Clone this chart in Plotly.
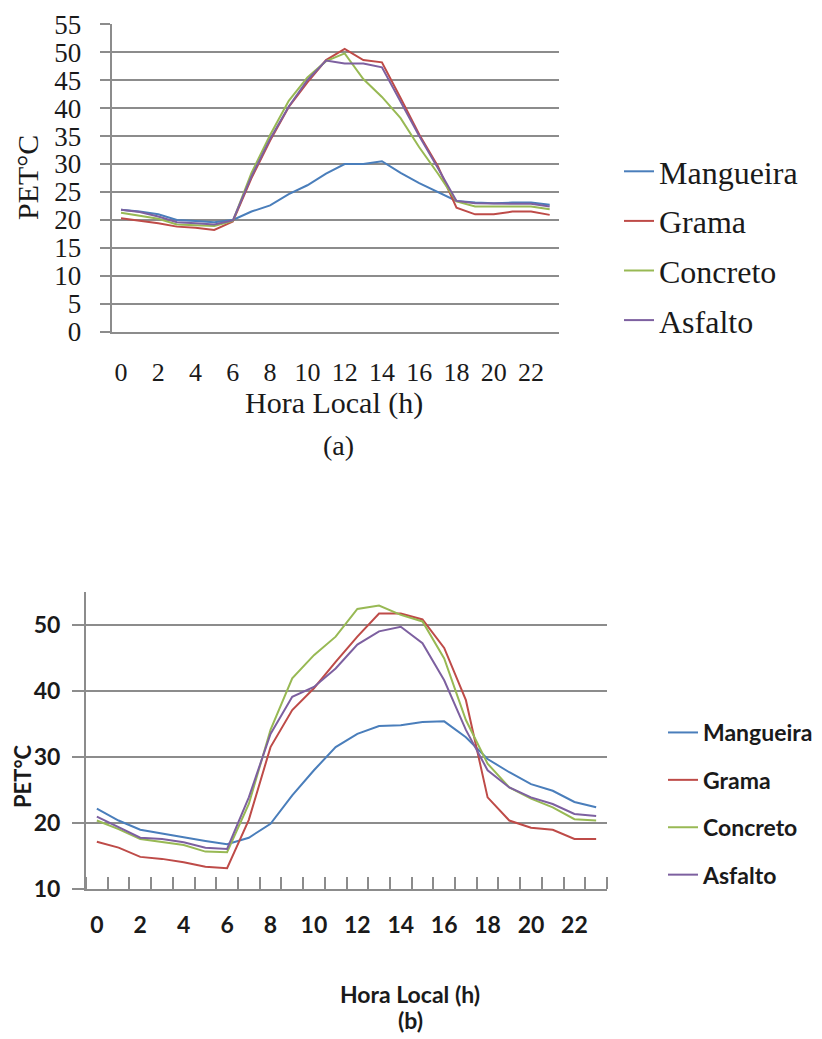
import plotly.graph_objects as go

# ---------------- data ----------------
hours = list(range(24))
tick_hours = list(range(0, 24, 2))
tick_labels = [str(h) for h in tick_hours]
series_names = ["Mangueira", "Grama", "Concreto", "Asfalto"]
series_colors = ["#4A7EBB", "#BE4B48", "#98B954", "#7D60A0"]

# (a)
a_mangueira = [21.8, 21.5, 21.0, 20.0, 19.8, 19.6, 20.0, 21.5, 22.6, 24.6, 26.2, 28.3,
               30.0, 30.0, 30.5, 28.4, 26.6, 25.0, 23.4, 23.1, 23.0, 23.1, 23.1, 22.7]
a_grama = [20.3, 19.9, 19.4, 18.8, 18.6, 18.2, 19.7, 27.5, 34.2, 40.2, 44.6, 48.6,
           50.6, 48.6, 48.2, 41.8, 35.3, 29.6, 22.2, 21.0, 21.0, 21.5, 21.5, 20.9]
a_concreto = [21.3, 20.8, 20.2, 19.2, 19.0, 18.9, 19.8, 28.4, 35.2, 41.3, 45.5, 48.4,
              49.8, 45.2, 42.0, 38.2, 33.0, 28.3, 23.3, 22.4, 22.4, 22.4, 22.4, 21.9]
a_asfalto = [21.8, 21.4, 20.6, 19.6, 19.4, 19.2, 19.9, 27.8, 34.5, 40.3, 45.0, 48.5,
             48.0, 48.0, 47.3, 41.2, 35.0, 29.3, 23.4, 23.0, 22.9, 22.9, 22.9, 22.4]

# (b)
b_mangueira = [22.2, 20.4, 19.0, 18.4, 17.9, 17.3, 16.8, 17.8, 19.9, 24.2, 28.0, 31.5,
               33.5, 34.7, 34.8, 35.3, 35.4, 33.0, 29.7, 27.7, 25.9, 24.9, 23.2, 22.4]
b_grama = [17.2, 16.3, 14.9, 14.6, 14.1, 13.4, 13.2, 20.5, 31.5, 37.1, 40.4, 44.4,
           48.2, 51.7, 51.7, 50.8, 46.5, 38.6, 23.9, 20.4, 19.3, 19.0, 17.6, 17.6]
b_concreto = [20.4, 19.1, 17.6, 17.2, 16.7, 15.7, 15.6, 22.9, 34.1, 41.9, 45.4, 48.2,
              52.4, 52.9, 51.5, 50.5, 44.9, 35.6, 29.0, 25.4, 23.7, 22.4, 20.6, 20.4]
b_asfalto = [21.0, 19.4, 17.8, 17.6, 17.1, 16.3, 16.1, 23.9, 33.5, 39.1, 40.6, 43.4,
             47.0, 49.0, 49.7, 47.2, 41.6, 34.1, 28.0, 25.4, 23.9, 22.9, 21.4, 21.1]

a_series = [a_mangueira, a_grama, a_concreto, a_asfalto]
b_series = [b_mangueira, b_grama, b_concreto, b_asfalto]

# ---------------- layout helpers ----------------
# the page adds an 8px body margin, so the figure is 8px smaller on each axis
OFF = 8
W, H = 822 - OFF, 1039 - OFF
def px_x(p):
    return (p - OFF) / W
def px_y(p):
    return 1 - (p - OFF) / H

GRID = "#8C8C8C"
TXT = "#1A1A1A"
SERIF = "Liberation Serif"
SANS = "Lato"

fig = go.Figure()
for name, color, vals in zip(series_names, series_colors, a_series):
    fig.add_trace(go.Scatter(x=hours, y=vals, mode="lines", name=name,
                             line=dict(color=color, width=2),
                             xaxis="x", yaxis="y", legend="legend",
                             legendgroup="a_" + name))
for name, color, vals in zip(series_names, series_colors, b_series):
    fig.add_trace(go.Scatter(x=hours, y=vals, mode="lines", name=name,
                             line=dict(color=color, width=2),
                             xaxis="x2", yaxis="y2", legend="legend2",
                             legendgroup="b_" + name))

minor_ticks = [h - 0.5 for h in hours] + [hours[-1] + 0.5]

fig.update_layout(
    width=W, height=H,
    margin=dict(l=0, r=0, t=0, b=0, autoexpand=False),
    paper_bgcolor="white", plot_bgcolor="white",
    showlegend=True,
    xaxis=dict(domain=[px_x(111.7), px_x(559)], anchor="y",
               range=[-0.5, 23.5], tickmode="array", tickvals=tick_hours,
               ticktext=tick_labels, ticks="", showgrid=False, zeroline=False,
               showline=True, linecolor=GRID, linewidth=2,
               tickfont=dict(family=SERIF, size=26, color=TXT),
               ticklabelstandoff=16),
    yaxis=dict(domain=[px_y(331.7), px_y(24.3)], anchor="x",
               range=[0, 55], tick0=0, dtick=5, showgrid=True,
               gridcolor=GRID, gridwidth=2, zeroline=False,
               showline=True, linecolor=GRID, linewidth=2,
               ticks="outside", ticklen=10, tickcolor=GRID, tickwidth=2,
               tickfont=dict(family=SERIF, size=27, color=TXT),
               ticklabelstandoff=13),
    xaxis2=dict(domain=[px_x(86), px_x(607)], anchor="y2",
                range=[-0.5, 23.5], tickmode="array", tickvals=tick_hours,
                ticktext=tick_labels, ticks="", showgrid=False, zeroline=False,
                showline=True, linecolor=GRID, linewidth=2,
                minor=dict(tickmode="array", tickvals=minor_ticks, ticks="inside",
                           ticklen=12, tickcolor=GRID, tickwidth=2, showgrid=False),
                tickfont=dict(family=SANS, size=23, color=TXT, weight="bold"),
                ticklabelstandoff=14),
    yaxis2=dict(domain=[px_y(889.3), px_y(591.7)], anchor="x2",
                range=[10, 55], tick0=10, dtick=10, showgrid=True,
                gridcolor=GRID, gridwidth=2, zeroline=False,
                showline=True, linecolor=GRID, linewidth=2,
                ticks="outside", ticklen=12, tickcolor=GRID, tickwidth=2,
                tickfont=dict(family=SANS, size=23, color=TXT, weight="bold"),
                ticklabelstandoff=7),
    legend=dict(x=px_x(619), xanchor="left", y=px_y(144), yanchor="top",
                font=dict(family=SERIF, size=32, color=TXT),
                traceorder="grouped", tracegroupgap=5, itemwidth=30,
                bgcolor="rgba(0,0,0,0)", borderwidth=0),
    legend2=dict(x=px_x(663), xanchor="left", y=px_y(711), yanchor="top",
                 font=dict(family=SANS, size=23, color=TXT, weight="bold"),
                 traceorder="grouped", tracegroupgap=14.5, itemwidth=30,
                 bgcolor="rgba(0,0,0,0)", borderwidth=0),
)

def label(text, x, y, family, size, angle=0, weight="normal"):
    fig.add_annotation(text=text, x=px_x(x), y=px_y(y), xref="paper", yref="paper",
                       xanchor="center", yanchor="middle", showarrow=False,
                       textangle=angle,
                       font=dict(family=family, size=size, color=TXT, weight=weight))

label("PET°C", 27, 178, SERIF, 30, angle=-90)
label("Hora Local (h)", 334, 403, SERIF, 30)
label("(a)", 338, 445, SERIF, 28)
label("PET°C", 22, 776, SANS, 22, angle=-90, weight="bold")
label("Hora Local (h)", 410, 994, SANS, 23, weight="bold")
label("(b)", 410, 1020, SANS, 23, weight="bold")

fig.write_html("out.html")
